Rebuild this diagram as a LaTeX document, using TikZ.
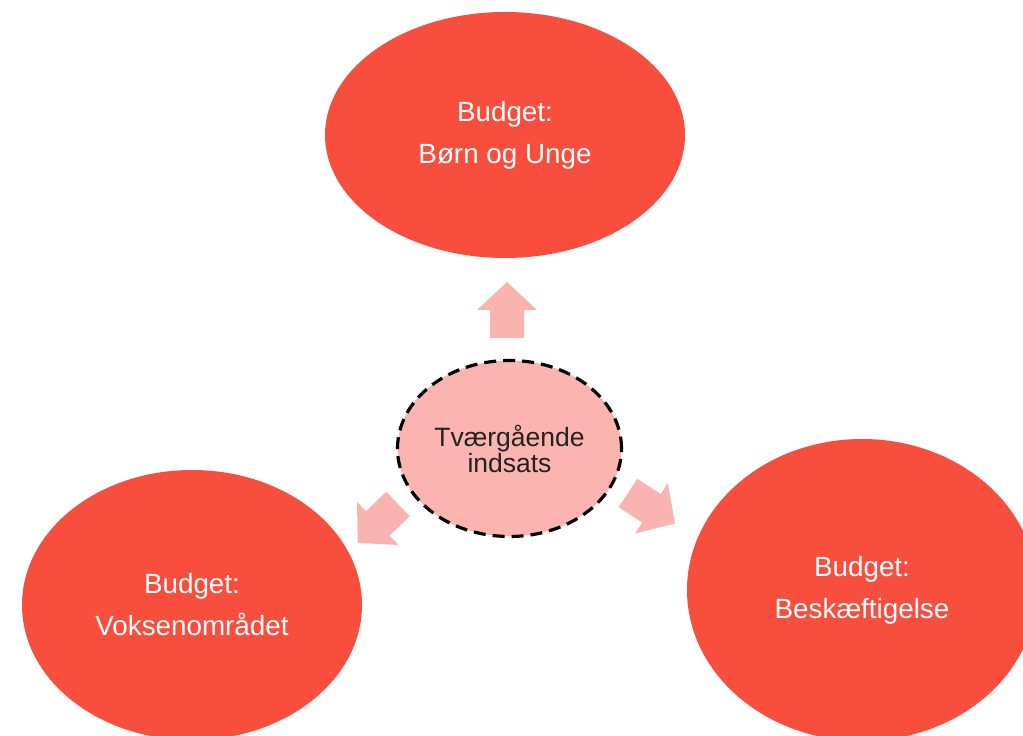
\documentclass[tikz,border=0pt]{standalone}
\usepackage{fontspec}
\setmainfont{Liberation Sans}
\usetikzlibrary{shapes.geometric}
\definecolor{budgetred}{HTML}{F84E3E}
\definecolor{centerpink}{HTML}{FBB4AF}
\definecolor{arrowpink}{HTML}{FAB4B0}
\definecolor{darktext}{HTML}{222222}
\tikzset{
  budget/.style={ellipse, fill=budgetred, inner sep=0pt, text=white, align=center,
    font=\fontsize{27.8}{42}\selectfont},
  centre/.style={ellipse, fill=centerpink, draw=black, line width=3.2pt,
    dash pattern=on 12pt off 7pt, inner sep=0pt, text=darktext, align=center,
    font=\fontsize{26.5}{26}\selectfont},
  blockarrow/.pic={\fill[arrowpink] (0,-17) -- (28,-17) -- (28,-30) -- (56,0) -- (28,30) -- (28,17) -- (0,17) -- cycle;}
}
\begin{document}
\begin{tikzpicture}[x=1pt,y=1pt]
\useasboundingbox (0,0) rectangle (1023,736);
\begin{scope}
\clip (0,0) rectangle (1023,736);
\node[budget, minimum width=360pt, minimum height=246pt] (top) at (505,601) {Budget:\\Børn og Unge};
\node[budget, minimum width=340pt, minimum height=270pt] (left) at (192,131) {Budget:\\Voksenområdet};
\node[budget, minimum width=350pt, minimum height=302pt] (right) at (862,146) {Budget:\\Beskæftigelse};
\node[centre, minimum width=224pt, minimum height=176pt] (mid) at (509.5,287.5) {Tværgående\\indsats};
\pic[rotate=90] at (507,398) {blockarrow};
\pic[rotate=224] at (398,232) {blockarrow};
\pic[rotate=-33] at (628,243) {blockarrow};
\end{scope}
\end{tikzpicture}
\end{document}
